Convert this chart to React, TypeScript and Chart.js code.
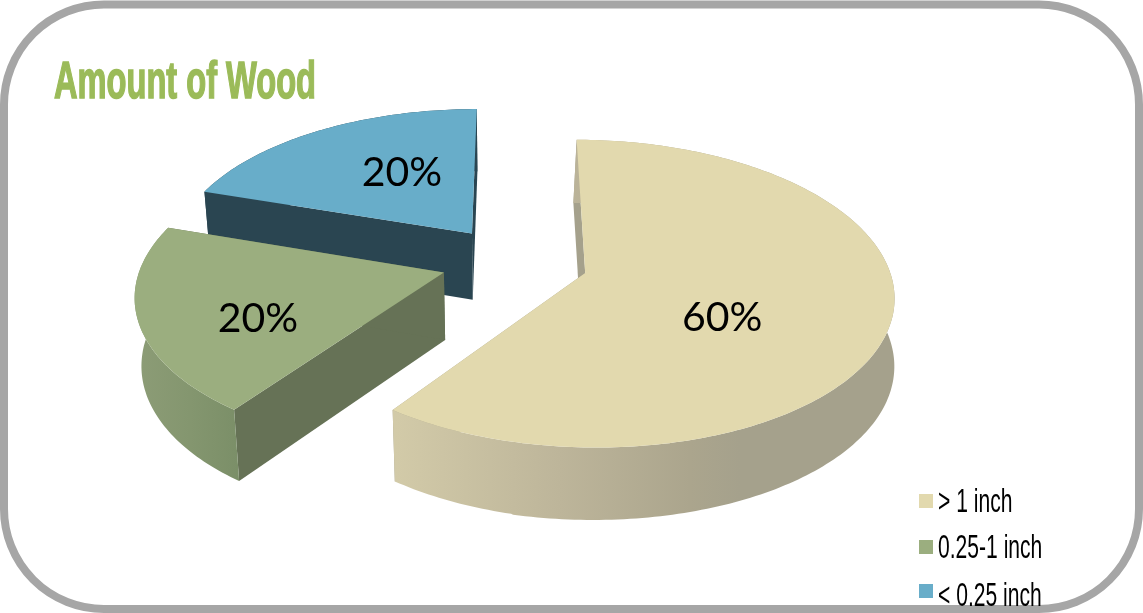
import React, { useEffect, useRef } from "react";
import { Chart, registerables } from "chart.js";

Chart.register(...registerables);

const categories = ["> 1 inch", "0.25-1 inch", "< 0.25 inch"];
const shares = [60, 20, 20];
const topColors = ["#E2D9AE", "#9BAE7F", "#68ADC9"];
const cutFaceColors = ["#A5A18C", "#667256", "#2A4551"];
const rimStops: [number, string][][] = [
  [[396, "#D2CAA8"], [560, "#BDB59A"], [690, "#ABA58D"], [740, "#A5A18C"], [892, "#A5A18C"]],
  [[138, "#8C9C76"], [190, "#84966F"], [238, "#7B8F68"]],
  [[207, "#2A4551"], [475, "#2A4551"]],
];
const chartTitle = "Amount of Wood";

// Perspective model of the tilted pie: unit-disc coordinates to canvas pixels.
const CENTER_X = 513.5;
const CENTER_Y = 261.5;
const RADIUS_X = 302;
const RADIUS_Y = 148;
const FORESHORTEN = 0.1335;
const sliceExplode = [0.247, 0.24, 0.24];
const THICKNESS = 67;
const TAPER_LEFT = 0.018;
const LEAN_RIGHT = 4;

// Slice label anchors relative to each slice's exploded centre.
const labelAnchors = [
  { x: 137, y: 45 },
  { x: -186, y: 46 },
  { x: -70, y: -61 },
];

// Legend rows: text baselines and swatch tops.
const legendBaselines = [512, 558, 606];
const legendSwatchTops = [494, 540, 584];

const top = (u: number, v: number) => {
  const w = 1 / (1 - FORESHORTEN * v);
  return { x: CENTER_X + RADIUS_X * u * w, y: CENTER_Y + RADIUS_Y * v * w, w };
};

const base = (u: number, v: number) => {
  const p = top(u, v);
  const x =
    u < 0
      ? CENTER_X + (p.x - CENTER_X) * (1 - TAPER_LEFT)
      : p.x - LEAN_RIGHT * Math.max(0, 1 - u / 1.3);
  return { x, y: p.y + THICKNESS * Math.sqrt(p.w) };
};

const polygon = (ctx: CanvasRenderingContext2D, pts: { x: number; y: number }[]) => {
  ctx.beginPath();
  pts.forEach((p, i) => (i ? ctx.lineTo(p.x, p.y) : ctx.moveTo(p.x, p.y)));
  ctx.closePath();
};

const tiltedPie = {
  id: "tiltedPie",
  beforeDraw(chart: any) {
    const { ctx } = chart;
    ctx.save();
    ctx.strokeStyle = "#A6A6A6";
    ctx.lineWidth = 8;
    ctx.beginPath();
    ctx.roundRect(4, 4.5, 1135, 604.5, 100);
    ctx.stroke();
    ctx.restore();
  },
  // The slices are painted in perspective from the arc elements' own angles.
  beforeDatasetDraw(chart: any) {
    const { ctx } = chart;
    const arcs = chart.getDatasetMeta(0).data;
    [2, 1, 0].forEach((i) => {
      const arc = arcs[i];
      const mid = (arc.startAngle + arc.endAngle) / 2;
      const ex = sliceExplode[i] * Math.cos(mid);
      const ey = sliceExplode[i] * Math.sin(mid);
      const steps = Math.ceil(((arc.endAngle - arc.startAngle) * 180) / Math.PI);
      const rim: [number, number][] = [];
      for (let s = 0; s <= steps; s++) {
        const a = arc.startAngle + ((arc.endAngle - arc.startAngle) * s) / steps;
        rim.push([ex + Math.cos(a), ey + Math.sin(a)]);
      }
      const first = rim[0];
      const last = rim[rim.length - 1];

      const gradient = ctx.createLinearGradient(
        rimStops[i][0][0], 0, rimStops[i][rimStops[i].length - 1][0], 0
      );
      const span = rimStops[i][rimStops[i].length - 1][0] - rimStops[i][0][0];
      rimStops[i].forEach(([x, c]) => gradient.addColorStop((x - rimStops[i][0][0]) / span, c));

      ctx.save();
      ctx.fillStyle = cutFaceColors[i];
      [first, last].forEach(([u, v]) => {
        polygon(ctx, [top(ex, ey), top(u, v), base(u, v), base(ex, ey)]);
        ctx.fill();
      });

      ctx.fillStyle = gradient;
      polygon(ctx, [
        ...rim.map(([u, v]) => top(u, v)),
        ...[...rim].reverse().map(([u, v]) => base(u, v)),
      ]);
      ctx.fill();

      ctx.fillStyle = arc.options.backgroundColor;
      polygon(ctx, [top(ex, ey), ...rim.map(([u, v]) => top(u, v))]);
      ctx.fill();
      ctx.restore();
    });
    return false;
  },
  afterDatasetsDraw(chart: any) {
    const { ctx } = chart;
    const arcs = chart.getDatasetMeta(0).data;
    const values = chart.data.datasets[0].data;

    ctx.save();
    ctx.fillStyle = "#000000";
    ctx.font = "41px Lato";
    ctx.textAlign = "center";
    ctx.textBaseline = "middle";
    arcs.forEach((arc: any, i: number) => {
      const mid = (arc.startAngle + arc.endAngle) / 2;
      const c = top(sliceExplode[i] * Math.cos(mid), sliceExplode[i] * Math.sin(mid));
      ctx.fillText(`${values[i]}%`, c.x + labelAnchors[i].x, c.y + labelAnchors[i].y);
    });

    // Condensed title, thickened with a thin outline
    ctx.textAlign = "left";
    ctx.textBaseline = "alphabetic";
    ctx.fillStyle = "#9BBB59";
    ctx.strokeStyle = "#9BBB59";
    ctx.lineWidth = 1.5;
    ctx.font = 'bold 51px "Liberation Sans"';
    const titleWidth = ctx.measureText(chartTitle).width;
    ctx.save();
    ctx.translate(54, 97.5);
    ctx.scale(262 / titleWidth, 1);
    ctx.fillText(chartTitle, 0, 0);
    ctx.strokeText(chartTitle, 0, 0);
    ctx.restore();

    // Legend
    chart.data.labels.forEach((label: string, i: number) => {
      ctx.fillStyle = topColors[i];
      ctx.fillRect(919, legendSwatchTops[i], 14, 14);
      ctx.fillStyle = "#000000";
      ctx.font = '34px "Liberation Sans"';
      ctx.save();
      ctx.translate(938, legendBaselines[i]);
      ctx.scale(0.62, 1);
      ctx.fillText(label, 0, 0);
      ctx.restore();
    });
    ctx.restore();
  },
};

export default function App() {
  const ref = useRef<HTMLCanvasElement>(null);
  useEffect(() => {
    document.body.style.margin = "0";
    const chart = new Chart(ref.current as HTMLCanvasElement, {
      type: "pie",
      data: {
        labels: categories,
        datasets: [{ data: shares, backgroundColor: topColors, borderWidth: 0 }],
      },
      options: {
        animation: false,
        responsive: false,
        events: [],
        plugins: { legend: { display: false }, tooltip: { enabled: false }, title: { display: false } },
      },
      plugins: [tiltedPie],
    } as any);
    return () => chart.destroy();
  }, []);
  return (
    <div style={{ width: 1143, height: 613, background: "#FFFFFF" }}>
      <canvas ref={ref} width={1143} height={613} style={{ display: "block" }} />
    </div>
  );
}
